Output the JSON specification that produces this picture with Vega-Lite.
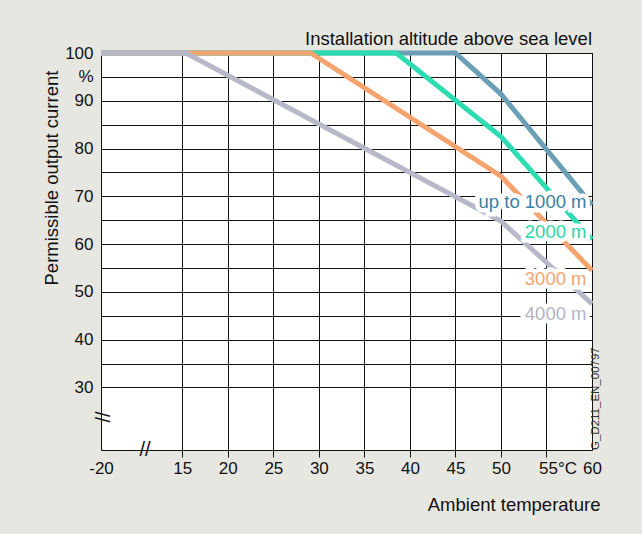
{
  "$schema": "https://vega.github.io/schema/vega-lite/v6.json",
  "width": 491,
  "height": 397,
  "autosize": {"type": "none"},
  "padding": {"left": 101, "top": 53, "right": 50, "bottom": 84},
  "background": "#e7e7e2",
  "config": {
    "view": {"fill": "white", "stroke": "#111", "strokeWidth": 1},
    "font": "Liberation Sans"
  },
  "title": {
    "text": "Installation altitude above sea level",
    "anchor": "end",
    "frame": "group",
    "fontSize": 18.5,
    "fontWeight": "normal",
    "font": "Liberation Sans",
    "color": "#111",
    "baseline": "alphabetic",
    "offset": 8,
    "dy": 28
  },
  "datasets": {
    "curves": [
      {"alt": "up to 1000 m", "t": 6.07, "p": 100},
      {"alt": "up to 1000 m", "t": 45, "p": 100},
      {"alt": "up to 1000 m", "t": 50, "p": 91.4},
      {"alt": "up to 1000 m", "t": 60, "p": 68.2},
      {"alt": "2000 m", "t": 6.07, "p": 100},
      {"alt": "2000 m", "t": 38.5, "p": 100},
      {"alt": "2000 m", "t": 50, "p": 82.5},
      {"alt": "2000 m", "t": 60, "p": 61},
      {"alt": "3000 m", "t": 6.07, "p": 100},
      {"alt": "3000 m", "t": 29.1, "p": 100},
      {"alt": "3000 m", "t": 50, "p": 74.2},
      {"alt": "3000 m", "t": 60, "p": 54.5},
      {"alt": "4000 m", "t": 6.07, "p": 100},
      {"alt": "4000 m", "t": 15.4, "p": 100},
      {"alt": "4000 m", "t": 50, "p": 64.8},
      {"alt": "4000 m", "t": 60, "p": 47.5}
    ],
    "labels": [
      {"alt": "up to 1000 m", "t": 59.4, "p": 68.8},
      {"alt": "2000 m", "t": 59.4, "p": 62.6},
      {"alt": "3000 m", "t": 59.4, "p": 52.6},
      {"alt": "4000 m", "t": 59.4, "p": 45.4}
    ],
    "ybreak": [{"t": 6.07, "p": 23.8, "s": "//"}],
    "xbreak": [{"t": 10.9, "p": 16.9, "s": "//"}],
    "code": [{"t": 60, "p": 16.9, "s": "G_D211_EN_00797"}]
  },
  "encoding": {
    "x": {
      "field": "t",
      "type": "quantitative",
      "scale": {"domain": [6.07, 60], "nice": false, "zero": false},
      "axis": {
        "values": [6.07, 15, 20, 25, 30, 35, 40, 45, 50, 55, 60],
        "labelExpr": "datum.value < 10 ? '-20' : (datum.value == 55 ? '55°C' : datum.label)",
        "title": "Ambient temperature",
        "domain": false,
        "grid": true,
        "gridColor": "#111",
        "gridOpacity": 1,
        "gridWidth": 1,
        "tickColor": {"condition": {"test": "datum.value < 10 || datum.value > 59", "value": "transparent"}, "value": "#111"},
        "tickSize": 7,
        "labelFontSize": 17,
        "labelColor": "#111",
        "labelPadding": 3,
        "labelOffset": {"condition": {"test": "datum.value == 55", "value": 11}, "value": 0},
        "labelFlush": false,
        "labelOverlap": false,
        "titleFontSize": 18.5,
        "titleFontWeight": "normal",
        "titleColor": "#111",
        "titleAlign": "right",
        "titleBaseline": "alphabetic",
        "titleX": 499,
        "titleY": 60
      }
    },
    "y": {
      "field": "p",
      "type": "quantitative",
      "scale": {"domain": [16.9, 100], "nice": false, "zero": false},
      "axis": {
        "values": [30, 35, 40, 45, 50, 55, 60, 65, 70, 75, 80, 85, 90, 95, 100],
        "labelExpr": "datum.value == 95 ? '%' : (datum.value % 10 == 0 ? datum.label : '')",
        "title": "Permissible output current",
        "domain": false,
        "ticks": false,
        "tickSize": 0,
        "grid": true,
        "gridColor": "#111",
        "gridOpacity": 1,
        "gridWidth": 1,
        "labelFontSize": 17,
        "labelColor": "#111",
        "labelPadding": 8,
        "labelFlush": false,
        "labelOverlap": false,
        "titleFontSize": 18.5,
        "titleFontWeight": "normal",
        "titleColor": "#111",
        "titleAngle": -90,
        "titleAlign": "left",
        "titleBaseline": "alphabetic",
        "titleX": -44,
        "titleY": 232
      }
    }
  },
  "layer": [
    {
      "data": {"name": "curves"},
      "mark": {"type": "line", "strokeWidth": 5, "strokeJoin": "miter"},
      "encoding": {
        "color": {
          "field": "alt",
          "type": "nominal",
          "sort": null,
          "scale": {
            "domain": ["up to 1000 m", "2000 m", "3000 m", "4000 m"],
            "range": ["#6a9fb5", "#2ddcb0", "#f4a46e", "#b9b8c8"]
          },
          "legend": null
        }
      }
    },
    {
      "data": {"name": "labels"},
      "mark": {"type": "text", "align": "right", "baseline": "middle", "fontSize": 18.5, "fill": "white", "stroke": "white", "strokeWidth": 9, "strokeJoin": "miter"},
      "encoding": {"text": {"field": "alt"}}
    },
    {
      "data": {"name": "labels"},
      "mark": {"type": "text", "align": "right", "baseline": "middle", "fontSize": 18.5},
      "encoding": {
        "text": {"field": "alt"},
        "fill": {
          "field": "alt",
          "type": "nominal",
          "scale": {
            "domain": ["up to 1000 m", "2000 m", "3000 m", "4000 m"],
            "range": ["#3b7fa3", "#2ad6a8", "#f4a46e", "#b3b3c3"]
          },
          "legend": null
        }
      }
    },
    {
      "data": {"name": "ybreak"},
      "mark": {"type": "text", "align": "center", "baseline": "middle", "fontSize": 20, "angle": 90, "color": "#111"},
      "encoding": {"text": {"field": "s"}}
    },
    {
      "data": {"name": "xbreak"},
      "mark": {"type": "text", "align": "center", "baseline": "middle", "fontSize": 20, "color": "#111"},
      "encoding": {"text": {"field": "s"}}
    },
    {
      "data": {"name": "code"},
      "mark": {"type": "text", "align": "left", "baseline": "middle", "fontSize": 11.5, "angle": -90, "dy": 4, "color": "#333"},
      "encoding": {"text": {"field": "s"}}
    }
  ]
}
